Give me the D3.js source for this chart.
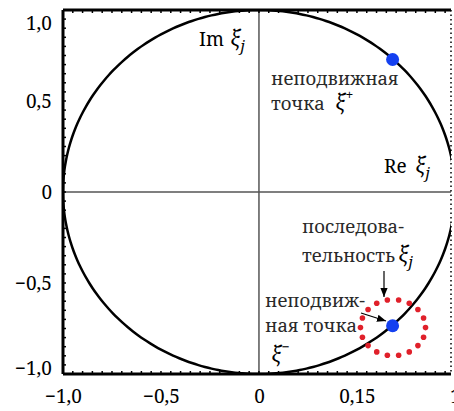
<!DOCTYPE html>
<html>
<head>
<meta charset="utf-8">
<script src="https://cdn.jsdelivr.net/npm/d3@7"></script>
<style>
  body { margin: 0; background: #fff; }
  svg { display: block; }
</style>
</head>
<body>
<div id="chart"></div>
<script>
var svgwidth = 454;
var svgheight = 411;
var margin = {top: 10, bottom: 37, right: 3, left: 63};
var serif = "'serif'";

// data
var xTicks = [-1, -0.5, 0, 0.5, 1];
var xTickLabels = ["\u22121,0", "\u22120,5", "0", "0,15", "1"];
var yTicks = [-1, -0.5, 0, 0.5, 1];
var yTickLabels = ["\u22121,0", "\u22120,5", "0", "0,5", "1,0"];
var fixedPoints = [{name: "plus", re: 0.682, im: 0.728}, {name: "minus", re: 0.682, im: -0.735}];
var seqCenter = {re: 0.684, im: -0.745};
var seqRadius = 0.166;
var seqCount = 18;

var width = svgwidth - margin.left - margin.right;
var height = svgheight - margin.top - margin.bottom;

var svg = d3.select("#chart").append("svg").attr("width", svgwidth).attr("height", svgheight);

var x = d3.scaleLinear().domain([-1, 0.98]).range([margin.left, margin.left + width]);
var y = d3.scaleLinear().domain([-1, 1]).range([margin.top + height, margin.top]);

svg.append("clipPath").attr("id", "clip")
    .append("rect").attr("x", margin.left).attr("y", margin.top).attr("width", width).attr("height", height);

var plot = svg.append("g").attr("clip-path", "url(#clip)");

// axes lines through origin
plot.append("line").attr("x1", x(0)).attr("x2", x(0)).attr("y1", y(1)).attr("y2", y(-1))
    .attr("stroke", "#555").attr("stroke-width", 1.5);
plot.append("line").attr("x1", x(-1)).attr("x2", x(0.98)).attr("y1", y(0)).attr("y2", y(0))
    .attr("stroke", "#555").attr("stroke-width", 1.5);

// unit circle
var circ = d3.range(0, 361, 2).map(function(a) {
    var t = a * Math.PI / 180;
    return [Math.cos(t), Math.sin(t)];
});
plot.append("path")
    .datum(circ)
    .attr("d", d3.line().x(d => x(d[0])).y(d => y(d[1])).curve(d3.curveCardinalClosed))
    .attr("fill", "none").attr("stroke", "#000").attr("stroke-width", 2.5);

// sequence ring (red dots)
var ring = d3.range(seqCount).map(function(i) {
    var t = 2 * Math.PI * i / seqCount;
    return {re: seqCenter.re + seqRadius * Math.cos(t), im: seqCenter.im + seqRadius * 182 / 196 * Math.sin(t)};
});
plot.selectAll("circle.seq").data(ring).enter().append("circle")
    .attr("class", "seq")
    .attr("cx", d => x(d.re)).attr("cy", d => y(d.im)).attr("r", 2.8)
    .attr("fill", "#e0202a");

plot.selectAll("circle.fixed").data(fixedPoints).enter().append("circle")
    .attr("class", "fixed")
    .attr("cx", d => x(d.re)).attr("cy", d => y(d.im)).attr("r", 6.5)
    .attr("fill", "#1440f0");

// frame
svg.append("line").attr("x1", x(-1)).attr("x2", x(0.98)).attr("y1", y(1)).attr("y2", y(1))
    .attr("stroke", "#000").attr("stroke-width", 3);
svg.append("line").attr("x1", x(-1)).attr("x2", x(0.98)).attr("y1", y(-1)).attr("y2", y(-1))
    .attr("stroke", "#000").attr("stroke-width", 3);
svg.append("line").attr("x1", x(-1)).attr("x2", x(-1)).attr("y1", y(1)).attr("y2", y(-1))
    .attr("stroke", "#000").attr("stroke-width", 3);
svg.append("line").attr("x1", x(0.98)).attr("x2", x(0.98)).attr("y1", y(1)).attr("y2", y(-1))
    .attr("stroke", "#000").attr("stroke-width", 1.5).attr("stroke-dasharray", "1.5,3");

// small inner ticks
var minor = d3.range(-1, 1.001, 0.05);
svg.append("g").selectAll("line").data(minor).enter().append("line")
    .attr("x1", d => x(d)).attr("x2", d => x(d)).attr("y1", y(-1)).attr("y2", y(-1) - 3)
    .attr("stroke", "#000").attr("stroke-width", 1.5);
svg.append("g").selectAll("line").data(minor.filter(d => d < 0.98)).enter().append("line")
    .attr("x1", d => x(d)).attr("x2", d => x(d)).attr("y1", y(1)).attr("y2", y(1) + 3)
    .attr("stroke", "#000").attr("stroke-width", 1.5);
svg.append("g").selectAll("line").data(minor).enter().append("line")
    .attr("x1", x(-1)).attr("x2", x(-1) + 3).attr("y1", d => y(d)).attr("y2", d => y(d))
    .attr("stroke", "#000").attr("stroke-width", 1.5);

// tick labels
var bottomAxis = d3.axisBottom(x).tickValues(xTicks).tickSize(0).tickPadding(16)
    .tickFormat((d, i) => xTickLabels[i]);
var gx = svg.append("g").attr("transform", "translate(0," + y(-1) + ")").call(bottomAxis);
gx.select(".domain").remove();

var leftAxis = d3.axisLeft(y).tickValues(yTicks).tickSize(0).tickPadding(11)
    .tickFormat((d, i) => yTickLabels[i]);
var gy = svg.append("g").attr("transform", "translate(" + x(-1) + ",0)").call(leftAxis);
gy.select(".domain").remove();
gy.selectAll(".tick text").attr("dy", function(d) {
    if (d === 1) return "1.0em";
    if (d === -1) return "0";
    return "0.32em";
});
svg.selectAll(".tick text").style("font-family", serif).style("font-size", "19px").style("fill", "#000");

// annotations
function note(px, py, s) {
    svg.append("text").attr("x", px).attr("y", py).text(s)
        .style("font-family", serif).style("font-size", "18.5px")
        .style("fill", "#2a2a2a");
}
function mathLabel(px, py, sup, sub) {
    var t = svg.append("text").attr("x", px).attr("y", py)
        .style("font-family", serif).style("font-style", "italic").style("font-size", "21px").style("fill", "#000");
    t.append("tspan").text("\u03BE");
    if (sub) t.append("tspan").style("font-size", "15px").attr("dy", 5).text(sub);
    if (sup) t.append("tspan").style("font-size", "14px").style("font-style", "normal").attr("dy", -10).text(sup);
}
function plain(px, py, s) {
    svg.append("text").attr("x", px).attr("y", py).text(s)
        .style("font-family", serif).style("font-size", "19px").style("fill", "#000");
}

plain(199, 46, "Im");
mathLabel(230, 46, null, "j");
plain(384, 173, "Re");
mathLabel(415, 173, null, "j");

note(271, 85, "неподвижная");
note(271, 110, "точка");
mathLabel(335, 110, "+", null);

note(302, 233, "последова-");
note(302, 262, "тельность");
mathLabel(398, 262, null, "j");

note(265, 307, "неподвиж-");
note(265, 332, "ная точка");
mathLabel(271, 362, "\u2212", null);

// arrows
svg.append("defs").append("marker").attr("id", "arr")
    .attr("viewBox", "0 0 10 10").attr("refX", 10).attr("refY", 5)
    .attr("markerWidth", 9).attr("markerHeight", 9).attr("markerUnits", "userSpaceOnUse")
    .attr("orient", "auto")
    .append("path").attr("d", "M0,1 L10,5 L0,9 Z").attr("fill", "#000");

svg.append("line").attr("x1", 384).attr("y1", 271).attr("x2", 384).attr("y2", 297)
    .attr("stroke", "#000").attr("stroke-width", 1.2).attr("marker-end", "url(#arr)");
svg.append("line").attr("x1", 361).attr("y1", 313).attr("x2", 386).attr("y2", 321)
    .attr("stroke", "#000").attr("stroke-width", 1.2).attr("marker-end", "url(#arr)");
</script>
</body>
</html>
